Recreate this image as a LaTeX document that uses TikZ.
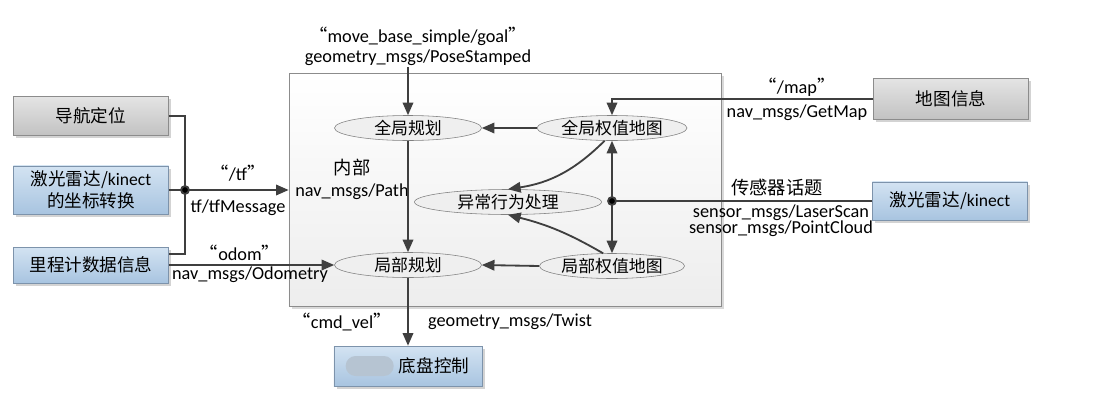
\documentclass[tikz,border=0pt]{standalone}
\usepackage{fontspec}
\setmainfont{Carlito}
\newfontfamily\cjk{Noto Sans CJK SC}
\usetikzlibrary{positioning,shapes.geometric,arrows.meta,shadows,calc}

\definecolor{wire}{HTML}{3F3F3F}
\definecolor{grayedge}{HTML}{8C8C8C}
\definecolor{blueedge}{HTML}{7D93AB}
\definecolor{bluetop}{HTML}{D3E3F2}
\definecolor{bluebot}{HTML}{A8C4E0}
\definecolor{graytop}{HTML}{E4E4E4}
\definecolor{graybot}{HTML}{C2C2C2}
\definecolor{ovalfill}{HTML}{EFEFEF}
\definecolor{blob}{HTML}{B6C4D2}

\newcommand\topicname[1]{{\cjk “}#1{\cjk ”}}

\begin{document}
\begin{tikzpicture}[x=0.025cm, y=-0.025cm,
    font=\fontsize{13}{16}\selectfont,
    wire/.style={draw=wire, line width=1.3pt},
    arrow/.style={wire, -{Triangle[length=9pt,width=7.5pt]}},
    graybox/.style={draw=grayedge, top color=graytop, bottom color=graybot, rectangle, minimum width=3.875cm, align=center, font=\fontsize{12.5}{16}\selectfont\cjk, drop shadow={opacity=0.35, shadow xshift=2pt, shadow yshift=-2pt}},
    bluebox/.style={graybox, draw=blueedge, top color=bluetop, bottom color=bluebot},
    oval/.style={draw=gray, fill=ovalfill, ellipse, minimum width=3.7cm, minimum height=0.625cm, inner sep=0pt, font=\fontsize{12}{14}\selectfont\cjk},
    lbl/.style={inner sep=1pt}
]
\useasboundingbox (0,0) rectangle (1120,409);

% move_base frame
\node[draw=grayedge, top color=white, bottom color=gray!14, minimum width=10.8cm, minimum height=5.83cm, inner sep=0pt, drop shadow={opacity=0.3, shadow xshift=2pt, shadow yshift=-2pt}] (frame) at (505,189.5) {};

% outside boxes
\node[graybox, minimum height=0.975cm] (nav_loc) at (91,116) {导航定位};
\node[bluebox, minimum height=1.175cm] (tf_box) at (91,190) {激光雷达/{\fontspec{Carlito}kinect}\\的坐标转换};
\node[bluebox, minimum height=0.9cm] (odom_box) at (91,265) {里程计数据信息};
\node[graybox, minimum height=1.03cm] (map_box) at (951,99) {地图信息};
\node[bluebox, minimum height=0.95cm] (laser_box) at (950,201) {激光雷达/{\fontspec{Carlito}kinect}};
\node[bluebox, minimum width=3.7cm, minimum height=1cm] (base_box) at (408,366) {\hspace{1.3cm}底盘控制};
\fill[blob, rounded corners=7pt] ($(base_box.west)+(12,-10)$) rectangle ($(base_box.west)+(60,10)$);

% planners and costmaps
\node[oval, minimum width=3.675cm] (g_plan) at (408,128) {全局规划};
\node[oval, minimum width=3.75cm] (g_cost) at (612,128) {全局权值地图};
\node[oval, minimum width=4.675cm] (recovery) at (508,202) {异常行为处理};
\node[oval, minimum width=3.675cm] (l_plan) at (408,265) {局部规划};
\node[oval, minimum width=3.625cm] (l_cost) at (612,266) {局部权值地图};

\coordinate (goal_in) at (408,67);
\coordinate (tf_dot) at (185,190);
\coordinate (sens_dot) at (612,201);

% topic labels
\node[lbl] (goal_lbl) at (418,36) {\topicname{move\_base\_simple/goal}};
\node[lbl] (goal_msg) at (418,58) {geometry\_msgs/PoseStamped};
\node[lbl] (tf_lbl) at (238,173) {\topicname{/tf}};
\node[lbl] (tf_msg) at (238,208) {tf/tfMessage};
\node[lbl] (odom_lbl) at (240,253) {\topicname{odom}};
\node[lbl] (odom_msg) at (250,275) {nav\_msgs/Odometry};
\node[lbl] (path_lbl) at (352,168) {\cjk 内部};
\node[lbl] (path_msg) at (352,192) {nav\_msgs/Path};
\node[lbl] (map_lbl) at (797,87) {\topicname{/map}};
\node[lbl] (map_msg) at (797,113) {nav\_msgs/GetMap};
\node[lbl] (sens_lbl) at (777,188) {\cjk 传感器话题};
\node[lbl, align=center, font=\fontsize{13}{11.5}\selectfont] (sens_msg) at (781,221) {sensor\_msgs/LaserScan\\sensor\_msgs/PointCloud};
\node[lbl] (cmd_lbl) at (342,322) {\topicname{cmd\_vel}};
\node[lbl] (cmd_msg) at (510,322) {geometry\_msgs/Twist};

% connectors
\draw[wire] (nav_loc.east) -| (tf_dot) |- ($(odom_box.north east)+(0,7)$);
\draw[arrow] (tf_box.east) -- (tf_box.east -| frame.west);
\fill[wire] (tf_dot) circle (2.8pt);
\draw[arrow] (odom_box.east) -- (l_plan.west);
\draw[arrow] (goal_in) -- (g_plan.north);
\draw[arrow] (g_cost.west) -- (g_plan.east);
\draw[arrow] (g_plan.south) -- (l_plan.north);
\draw[arrow] (l_cost.west) -- (l_plan.east);
\draw[arrow] (g_cost.240) to[bend left=18] (recovery.north);
\draw[arrow] (l_cost.125) to[bend right=8] (recovery.south);
\draw[arrow] (map_box.west) -| (g_cost.north);
\draw[wire] (laser_box.west) -- (sens_dot);
\draw[arrow] (sens_dot) -- (g_cost.south);
\draw[arrow] (sens_dot) -- (l_cost.north);
\fill[wire] (sens_dot) circle (2.8pt);
\draw[arrow] (l_plan.south) -- (base_box.north);

\end{tikzpicture}
\end{document}
